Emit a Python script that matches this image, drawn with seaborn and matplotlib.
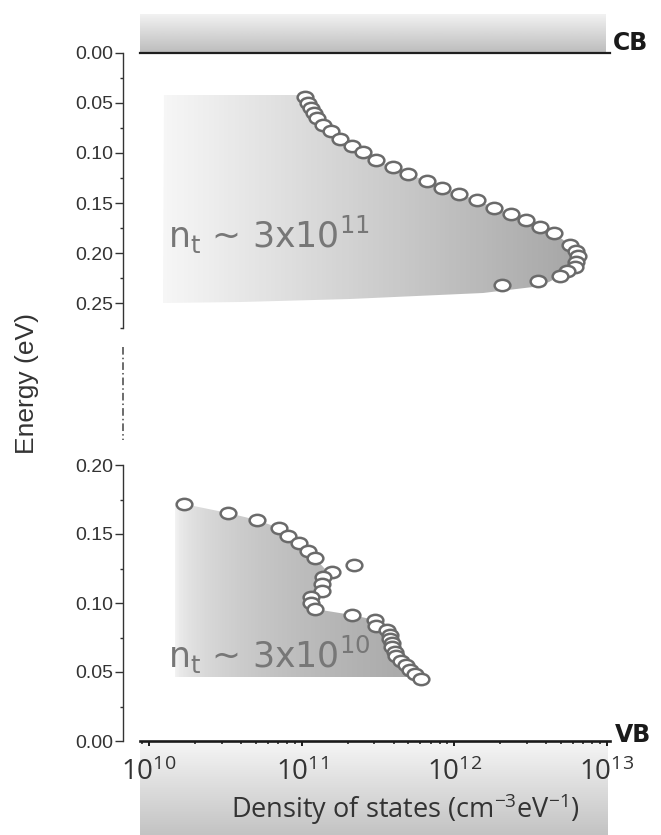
import numpy as np
import matplotlib
matplotlib.use("Agg")
import matplotlib.pyplot as plt
import seaborn as sns
from matplotlib.colors import LinearSegmentedColormap
from matplotlib.patches import Polygon
from matplotlib.path import Path
from matplotlib.transforms import Affine2D
from matplotlib.lines import Line2D
from matplotlib.ticker import MultipleLocator, FormatStrFormatter, LogLocator, NullFormatter, FuncFormatter

sns.set_theme(style="white")
plt.rcParams["font.family"] = ["Liberation Sans", "DejaVu Sans"]

# trap states below the conduction band (energy measured from CB)
cb_dos = [1.05e11, 1.10e11, 1.15e11, 1.20e11, 1.26e11, 1.38e11, 1.55e11, 1.78e11,
          2.14e11, 2.51e11, 3.09e11, 3.98e11, 5.01e11, 6.61e11, 8.32e11, 1.07e12,
          1.41e12, 1.82e12, 2.34e12, 2.95e12, 3.63e12, 4.47e12, 5.75e12, 6.31e12,
          6.46e12, 6.31e12, 6.17e12, 5.50e12, 4.90e12, 3.55e12, 2.04e12]
cb_energy = [0.0437, 0.0497, 0.0546, 0.0596, 0.0652, 0.0719, 0.0785, 0.0861,
             0.0927, 0.0993, 0.1066, 0.1142, 0.1209, 0.1281, 0.1348, 0.1414,
             0.1474, 0.1546, 0.1606, 0.1672, 0.1738, 0.1798, 0.1921, 0.1977,
             0.2030, 0.2086, 0.2136, 0.2185, 0.2228, 0.2280, 0.2320]

# trap states above the valence band (energy measured from VB)
vb_dos = [1.70e10, 3.31e10, 5.13e10, 7.08e10, 8.13e10, 9.55e10, 1.10e11, 1.23e11,
          2.19e11, 1.58e11, 1.38e11, 1.35e11, 1.35e11, 1.15e11, 1.15e11, 1.23e11,
          2.14e11, 3.02e11, 3.09e11, 3.63e11, 3.80e11, 3.80e11, 3.89e11, 3.89e11,
          4.07e11, 4.17e11, 4.47e11, 4.79e11, 5.13e11, 5.50e11, 6.03e11]
vb_energy = [0.1720, 0.1655, 0.1600, 0.1540, 0.1487, 0.1434, 0.1378, 0.1325,
             0.1272, 0.1222, 0.1186, 0.1137, 0.1084, 0.1043, 0.1000, 0.0957,
             0.0916, 0.0880, 0.0836, 0.0802, 0.0771, 0.0740, 0.0711, 0.0680,
             0.0648, 0.0614, 0.0583, 0.0549, 0.0518, 0.0487, 0.0446]

# outline of the shaded areas (besides the data points themselves)
cb_top_dos, cb_top_energy = [1.26e10, 1.02e11], [0.042, 0.042]
cb_edge_dos = [4.17e12, 3.27e12, 1.54e12, 2.07e11, 3.98e10, 1.24e10]
cb_edge_energy = [0.2290, 0.2337, 0.2397, 0.2463, 0.2488, 0.2497]
vb_left_dos, vb_left_energy = [1.47e10, 1.47e10], [0.0464, 0.1700]
vb_notch_dos, vb_notch_energy = [1.42e11], [0.125]
vb_end_dos, vb_end_energy = [5.8e11], [0.0464]

nt_labels = ["n$_\\mathregular{t}$ ~ 3x10$^\\mathregular{11}$",
             "n$_\\mathregular{t}$ ~ 3x10$^\\mathregular{10}$"]

W, H = 661, 835
xlim = (10 ** 9.941, 10 ** 13.02)
ellipse = Path.unit_circle().transformed(Affine2D().scale(1.0, 0.72))


def fx(px):
    return px / W


def fy(py):
    return 1 - py / H


def band(rect, c0, c1):
    axb = fig.add_axes(rect, zorder=0)
    cmap = LinearSegmentedColormap.from_list("band", [c0, c1])
    axb.imshow(np.linspace(0, 1, 200)[:, None], cmap=cmap, aspect="auto",
               interpolation="bilinear")
    axb.set_axis_off()


def shade(ax, xs, ys, c0, c1, gamma):
    edges = np.logspace(np.log10(min(xs)), np.log10(max(xs)), 301)
    t = np.linspace(0, 1, 300) ** gamma
    cmap = LinearSegmentedColormap.from_list("shade", [c0, c1])
    mesh = ax.pcolormesh(edges, [min(ys), max(ys)], t[np.newaxis, :], cmap=cmap,
                         vmin=0, vmax=1, shading="flat", zorder=1,
                         edgecolors="none", antialiased=False)
    poly = Polygon(np.column_stack([xs, ys]), closed=True, transform=ax.transData,
                   facecolor="none", edgecolor="none")
    ax.add_patch(poly)
    mesh.set_clip_path(poly)


def dots(ax, x, y):
    sns.scatterplot(x=x, y=y, marker=ellipse, s=128, color="#6a6a6a",
                    facecolor="white", edgecolor="#6a6a6a", linewidth=1.8,
                    zorder=4, legend=False, ax=ax)


def style_y(ax):
    ax.yaxis.set_major_locator(MultipleLocator(0.05))
    ax.yaxis.set_minor_locator(MultipleLocator(0.025))
    ax.yaxis.set_major_formatter(FormatStrFormatter("%.2f"))
    ax.tick_params(axis="y", which="both", left=True, direction="out",
                   color="#333333", width=1.0, labelsize=14,
                   labelcolor="#333333", pad=1.5)
    ax.tick_params(axis="y", which="major", length=5.5)
    ax.tick_params(axis="y", which="minor", length=2.5)
    ax.spines["left"].set_position(("outward", 12.2))
    ax.spines["left"].set_color("#333333")
    ax.spines["left"].set_linewidth(1.0)
    ax.spines["right"].set_visible(False)
    ax.set_xscale("log")
    ax.set_xlim(*xlim)
    ax.set_xlabel("")
    ax.set_ylabel("")
    ax.set_facecolor("none")


fig = plt.figure(figsize=(W / 100, H / 100), dpi=100)

band([fx(140), fy(53), 466 / W, 39 / H], "#f2f2f2", "#bcbcbc")
band([fx(140), 0, 468 / W, 93 / H], "#f5f5f5", "#c3c3c3")

ax_top = fig.add_axes([fx(140), fy(328), 470 / W, 275 / H], zorder=2)
ax_bot = fig.add_axes([fx(140), fy(741), 470 / W, 276 / H], zorder=2)

# conduction band side
shade(ax_top, cb_top_dos + cb_dos[:29] + cb_edge_dos,
      cb_top_energy + cb_energy[:29] + cb_edge_energy, "#f6f6f6", "#a6a6a6", 1.0)
dots(ax_top, cb_dos, cb_energy)
ax_top.text(10 ** 10.125, 0.195, nt_labels[0], fontsize=25, color="#777777",
            fontfamily="DejaVu Sans", va="baseline", zorder=3)
style_y(ax_top)
ax_top.set_ylim(0.275, 0)
ax_top.spines["bottom"].set_visible(False)
ax_top.spines["top"].set_color("#1e1e1e")
ax_top.spines["top"].set_linewidth(1.6)
ax_top.tick_params(axis="x", which="both", bottom=False, top=False,
                   labelbottom=False)

# valence band side
shade(ax_bot, vb_left_dos + vb_dos[:8] + vb_notch_dos + vb_dos[10:30] + vb_end_dos,
      vb_left_energy + vb_energy[:8] + vb_notch_energy + vb_energy[10:30] + vb_end_energy,
      "#f8f8f8", "#a8a8a8", 0.45)
dots(ax_bot, vb_dos, vb_energy)
ax_bot.text(10 ** 10.125, 0.0529, nt_labels[1], fontsize=25, color="#777777",
            fontfamily="DejaVu Sans", va="baseline", zorder=3)
style_y(ax_bot)
ax_bot.set_ylim(0, 0.20)
ax_bot.spines["top"].set_visible(False)
ax_bot.spines["bottom"].set_color("#1a1a1a")
ax_bot.spines["bottom"].set_linewidth(1.9)
ax_bot.xaxis.set_major_locator(LogLocator(base=10, numticks=10))
ax_bot.xaxis.set_minor_locator(LogLocator(base=10, subs=np.arange(2, 10), numticks=20))
ax_bot.xaxis.set_major_formatter(
    FuncFormatter(lambda v, p: "$\\mathregular{10^{%d}}$" % round(np.log10(v))))
ax_bot.xaxis.set_minor_formatter(NullFormatter())
ax_bot.tick_params(axis="x", which="both", bottom=True, direction="out",
                   color="#1a1a1a", labelsize=20, labelcolor="#333333",
                   labelfontfamily="Open Sans", pad=9)
ax_bot.tick_params(axis="x", which="major", length=3.5, width=1.4)
ax_bot.tick_params(axis="x", which="minor", length=2.5, width=1.1)

# axis break
fig.add_artist(Line2D([fx(123), fx(123)], [fy(347), fy(440)], transform=fig.transFigure,
                      color="#444444", lw=1.1, linestyle=(0, (5, 2, 1, 2))))

fig.text(fx(613), fy(43), "CB", fontsize=17, fontweight="bold",
         fontfamily="DejaVu Sans", color="#1a1a1a", va="center", ha="left")
fig.text(fx(615), fy(735), "VB", fontsize=17, fontweight="bold",
         fontfamily="DejaVu Sans", color="#1a1a1a", va="center", ha="left")
fig.text(fx(27), fy(383), "Energy (eV)", fontsize=19, rotation=90,
         color="#333333", ha="center", va="center")
fig.text(fx(405), fy(818), "Density of states (cm$^\\mathregular{-3}$eV$^\\mathregular{-1}$)",
         fontsize=19.5, fontfamily="Open Sans", color="#333333",
         ha="center", va="baseline")

fig.savefig("out.png", dpi=100)
